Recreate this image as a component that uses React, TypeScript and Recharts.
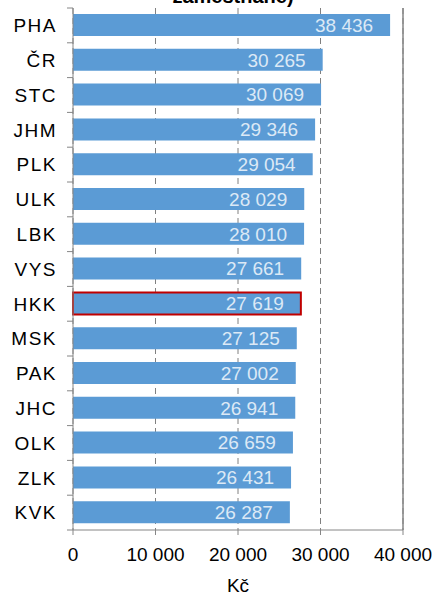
import { BarChart, Bar, XAxis, YAxis, CartesianGrid, ReferenceLine, LabelList, Cell } from 'recharts';

const regions = ['PHA', 'ČR', 'STC', 'JHM', 'PLK', 'ULK', 'LBK', 'VYS', 'HKK', 'MSK', 'PAK', 'JHC', 'OLK', 'ZLK', 'KVK'];
const wages = [38436, 30265, 30069, 29346, 29054, 28029, 28010, 27661, 27619, 27125, 27002, 26941, 26659, 26431, 26287];
const xTicks = [0, 10000, 20000, 30000, 40000];
const highlighted = 'HKK';

const data = regions.map((name, i) => ({ name, value: wages[i] }));

const fmt = (v: number) => String(v).replace(/\B(?=(\d{3})+(?!\d))/g, ' ');

const font = '"Liberation Sans", Arial, sans-serif';

function RegionTick(props: any) {
  const { y, payload, index } = props;
  const half = payload && payload.offset ? payload.offset : 17.4;
  return (
    <g>
      <text x={57} y={y} dy="0.36em" textAnchor="end" fontSize={19} fill="#000" fontFamily={font} letterSpacing={1.5}>
        {payload.value}
      </text>
      <line x1={67} x2={73} y1={y + half} y2={y + half} stroke="#868686" />
      {index === 0 && <line x1={67} x2={73} y1={y - half} y2={y - half} stroke="#868686" />}
    </g>
  );
}

export default function App() {
  return (
    <div style={{ position: 'absolute', left: 0, top: 0, width: 439, height: 596, fontFamily: font, background: '#fff' }}>
      <svg width={439} height={8} style={{ position: 'absolute', left: 0, top: 0 }}>
        <text x={233} y={3} textAnchor="middle" fontSize={20} fontWeight="bold" fill="#000" fontFamily={font}>
          zaměstnané)
        </text>
      </svg>
      <BarChart
        width={439}
        height={596}
        data={data}
        layout="vertical"
        margin={{ top: 8, right: 36, left: 0, bottom: 0 }}
        style={{ position: 'absolute', left: 0, top: 0 }}
      >
        <CartesianGrid horizontal={false} stroke="#808080" strokeDasharray="6 4" />
        <XAxis
          type="number"
          domain={[0, 40000]}
          ticks={xTicks}
          tickFormatter={fmt}
          stroke="#868686"
          tickSize={5}
          tickMargin={13}
          height={66}
          tick={{ fill: '#000', fontSize: 19, fontFamily: font }}
          label={{ value: 'Kč', position: 'insideBottom', offset: 4, fill: '#000', fontSize: 19, fontFamily: font }}
        />
        <XAxis
          xAxisId="top"
          orientation="top"
          type="number"
          domain={[0, 40000]}
          height={0}
          tick={false}
          tickLine={false}
          stroke="#868686"
        />
        <YAxis
          type="category"
          dataKey="name"
          width={73}
          stroke="#868686"
          tickLine={false}
          tick={<RegionTick />}
          interval={0}
        />
        <ReferenceLine x={40000} stroke="#868686" strokeWidth={1.5} />
        <Bar dataKey="value" fill="#5B9BD5" barSize={22} isAnimationActive={false}>
          {data.map((d) => (
            <Cell
              key={d.name}
              fill="#5B9BD5"
              stroke={d.name === highlighted ? '#C00000' : 'none'}
              strokeWidth={d.name === highlighted ? 2 : 0}
            />
          ))}
          <LabelList
            dataKey="value"
            position="insideRight"
            offset={17}
            formatter={(v: any) => fmt(Number(v))}
            fill="#DCE9F6"
            fontSize={19}
            fontFamily={font}
          />
        </Bar>
      </BarChart>
    </div>
  );
}
